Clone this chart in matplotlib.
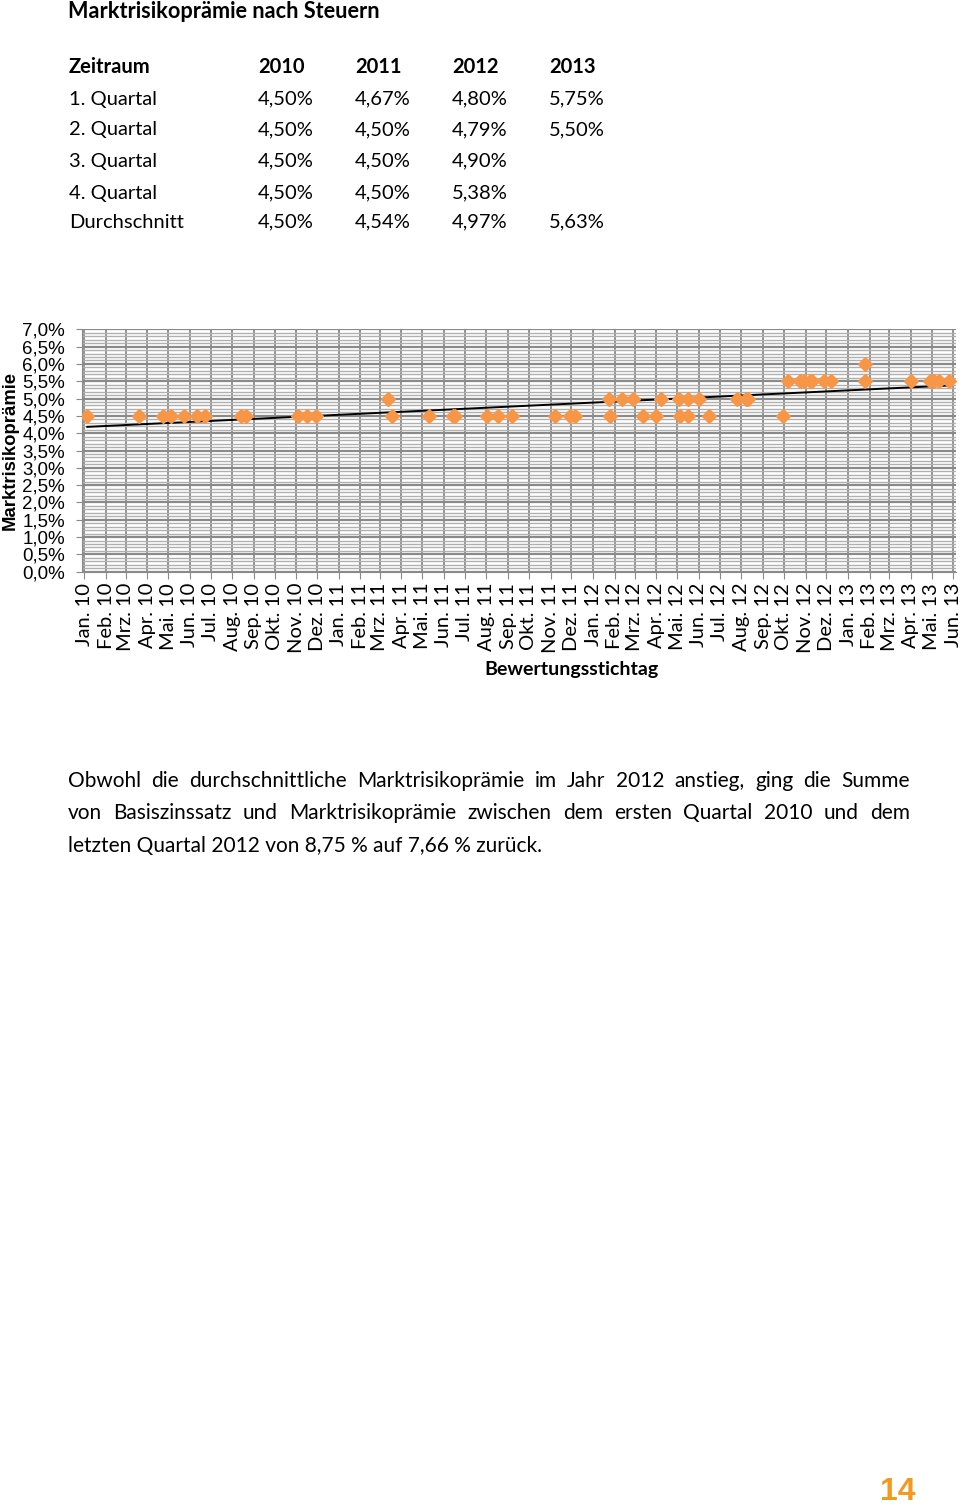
import numpy as np
import pandas as pd
import matplotlib
matplotlib.use("Agg")
import matplotlib.pyplot as plt
import matplotlib.dates as mdates
from matplotlib.ticker import MultipleLocator, FuncFormatter

# Tabelle oben
table_header = ["Zeitraum", "2010", "2011", "2012", "2013"]
row_labels = ["1. Quartal", "2. Quartal", "3. Quartal", "4. Quartal", "Durchschnitt"]
col_2010 = ["4,50%", "4,50%", "4,50%", "4,50%", "4,50%"]
col_2011 = ["4,67%", "4,50%", "4,50%", "4,50%", "4,54%"]
col_2012 = ["4,80%", "4,79%", "4,90%", "5,38%", "4,97%"]
col_2013 = ["5,75%", "5,50%", "", "", "5,63%"]

# Punkte im Diagramm (Bewertungsstichtag, Marktrisikopraemie in %)
dates_45 = ["2010-01-05", "2010-03-20", "2010-04-23", "2010-05-05", "2010-05-24",
            "2010-06-11", "2010-06-23", "2010-08-14", "2010-08-21", "2010-11-03",
            "2010-11-17", "2010-11-30", "2011-03-18", "2011-05-11", "2011-06-14",
            "2011-06-17", "2011-08-02", "2011-08-17", "2011-09-07", "2011-11-07",
            "2011-11-29", "2011-12-06", "2012-01-25", "2012-03-13", "2012-04-01",
            "2012-05-05", "2012-05-17", "2012-06-15", "2012-09-29"]
dates_50 = ["2011-03-12", "2012-01-24", "2012-02-11", "2012-02-28", "2012-04-07",
            "2012-05-04", "2012-05-17", "2012-06-01", "2012-07-25", "2012-08-07",
            "2012-08-11"]
dates_55 = ["2012-10-07", "2012-10-24", "2012-10-30", "2012-11-07", "2012-11-11",
            "2012-11-28", "2012-12-07", "2013-01-26", "2013-04-02", "2013-04-28",
            "2013-05-04", "2013-05-12", "2013-05-26"]
dates_60 = ["2013-01-26"]

dates = dates_45 + dates_50 + dates_55 + dates_60
values = [4.5] * len(dates_45) + [5.0] * len(dates_50) + [5.5] * len(dates_55) + [6.0] * len(dates_60)

month_names = ["Jan.", "Feb.", "Mrz.", "Apr.", "Mai.", "Jun.", "Jul.", "Aug.", "Sep.", "Okt.", "Nov.", "Dez."]
months = pd.date_range("2010-01-01", "2013-06-01", freq="MS")
month_labels = [month_names[m.month - 1] + " " + str(m.year)[2:] for m in months]

paragraph = [
    "Obwohl die durchschnittliche Marktrisikoprämie im Jahr 2012 anstieg, ging die Summe",
    "von Basiszinssatz und Marktrisikoprämie zwischen dem ersten Quartal 2010 und dem",
    "letzten Quartal 2012 von 8,75 % auf 7,66 % zurück.",
]

W, H = 960, 1509
fig = plt.figure(figsize=(W / 100, H / 100), dpi=100)

def fx(x):
    return x / W

def fy(y):
    return 1 - y / H

body = "Lato"
orange = "#F79646"

# Ueberschrift + Tabelle
fig.text(fx(68), fy(11), "Marktrisikoprämie nach Steuern", fontsize=15.6, fontweight="bold",
         family=body, va="center", ha="left")
col_x = [69, 258, 355, 452, 549]
row_y = [67, 99, 130, 161, 193, 222]
for x, h in zip(col_x, table_header):
    fig.text(fx(x), fy(row_y[0]), h, fontsize=14.5, fontweight="bold", family=body, va="center")
for i, lab in enumerate(row_labels):
    y = fy(row_y[i + 1])
    for x, t in zip(col_x, [lab, col_2010[i], col_2011[i], col_2012[i], col_2013[i]]):
        fig.text(fx(x), y, t, fontsize=14.5, family=body, va="center")

# Diagramm
ax = fig.add_axes([fx(81.7), fy(571.7), fx(956) - fx(81.7), fy(329.3) - fy(571.7)])
d = pd.to_datetime(dates)
ax.plot(d, values, linestyle="none", marker="D", markersize=7, color=orange, zorder=3)

# linearer Trend
xn = mdates.date2num(d)
k, b = np.polyfit(xn, values, 1)
xt = np.array([xn.min(), xn.max()])
ax.plot(mdates.num2date(xt), k * xt + b, color="black", linewidth=1.4, zorder=2)

ax.set_ylim(0, 7.0)
ax.set_xlim(pd.Timestamp("2009-12-28"), pd.Timestamp("2013-06-05"))
ax.yaxis.set_major_locator(MultipleLocator(0.5))
ax.yaxis.set_minor_locator(MultipleLocator(0.1))
ax.yaxis.set_major_formatter(FuncFormatter(lambda v, p: ("%.1f%%" % v).replace(".", ",")))
ax.set_xticks(months)
ax.set_xticklabels(month_labels, rotation=90, fontsize=14.5, family=body)
ax.grid(axis="y", which="major", color="#8a8a8a", linewidth=1.6)
ax.grid(axis="y", which="minor", color="#b0b0b0", linewidth=1.0)
ax.grid(axis="x", which="major", color="#8a8a8a", linewidth=1.3)
ax.set_axisbelow(True)
for s in ["top", "right"]:
    ax.spines[s].set_visible(False)
for s in ["left", "bottom"]:
    ax.spines[s].set_color("#8a8a8a")
ax.tick_params(axis="y", which="major", length=4, color="#8a8a8a", labelsize=13.5, pad=8)
ax.tick_params(axis="y", which="minor", length=0)
ax.tick_params(axis="x", length=5, color="#8a8a8a", pad=3)
for t in ax.get_yticklabels():
    t.set_family("Liberation Sans")

fig.text(fx(10), fy(450), "Marktrisikoprämie", rotation=90, fontsize=13.3, fontweight="bold",
         family="Liberation Sans", va="center", ha="center")
fig.text(fx(572), fy(669), "Bewertungsstichtag", fontsize=14, fontweight="bold",
         family=body, va="center", ha="center")

# Absatz im Blocksatz
renderer = fig.canvas.get_renderer()
left, right = 68, 910
line_y = [781, 813, 846]
for i, line in enumerate(paragraph):
    words = line.split(" ")
    if i == len(paragraph) - 1:
        fig.text(fx(left), fy(line_y[i]), line, fontsize=15, family=body, va="center")
        continue
    texts = [fig.text(0, fy(line_y[i]), w, fontsize=15, family=body, va="center") for w in words]
    widths = [t.get_window_extent(renderer).width for t in texts]
    gap = (right - left - sum(widths)) / (len(words) - 1)
    x = left
    for t, w in zip(texts, widths):
        t.set_x(fx(x))
        x += w + gap

fig.text(fx(898), fy(1492), "14", fontsize=23, fontweight="bold", color="#F39A1E",
         family="Liberation Sans", va="center", ha="center")

fig.savefig("out.png", dpi=100)
